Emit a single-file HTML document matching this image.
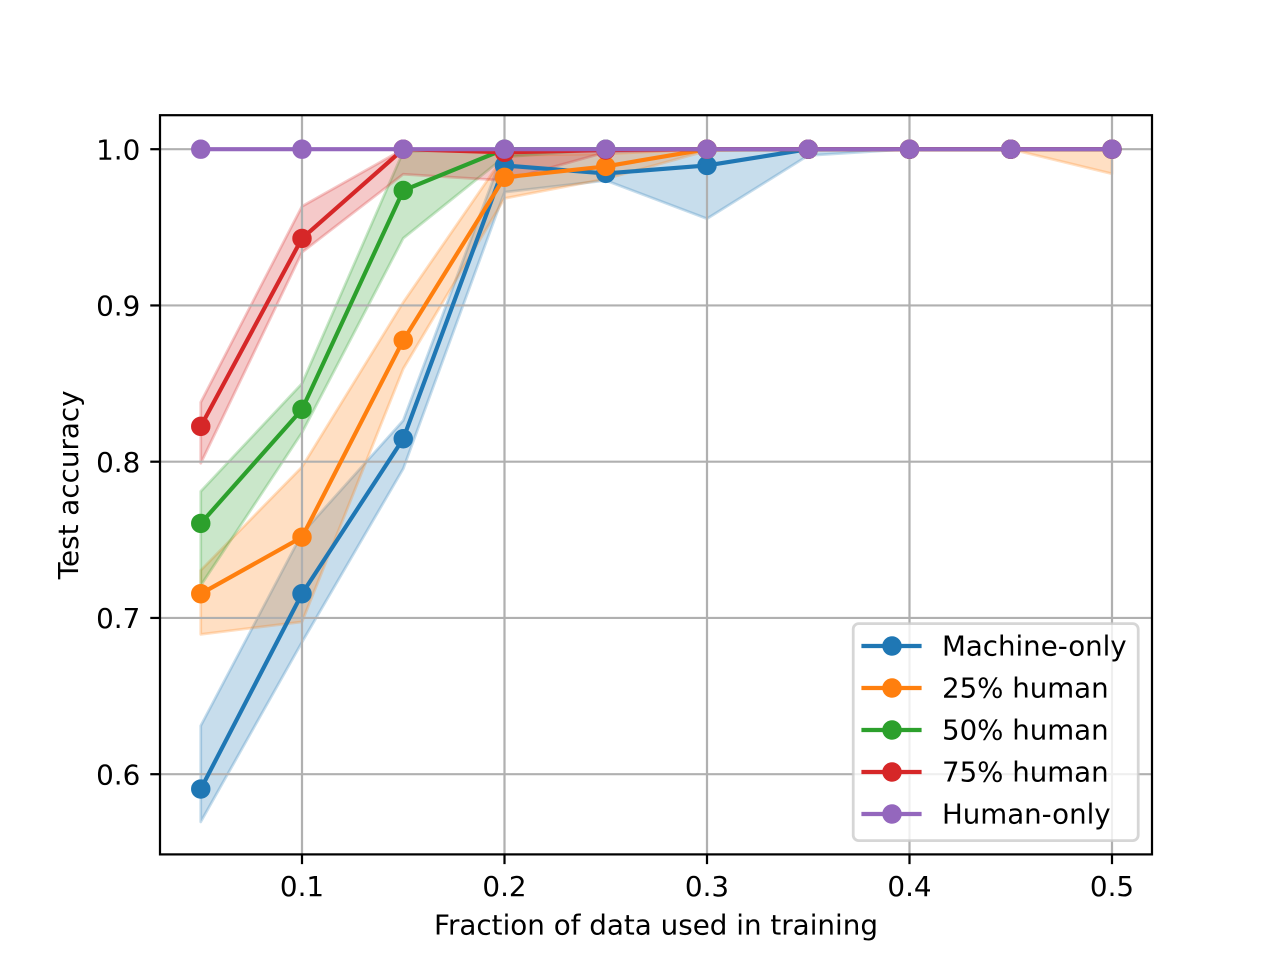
<!DOCTYPE html>
<html lang="en">
<head>
<meta charset="utf-8">
<title>Test accuracy vs fraction of data used in training</title>
<style>
  html, body { margin: 0; padding: 0; background: #ffffff; }
  svg { display: block; }
  text { font-family: "DejaVu Sans", "Liberation Sans", sans-serif; font-size: 27.78px; fill: #000000; }
</style>
</head>
<body>
<svg id="chart" xmlns="http://www.w3.org/2000/svg" width="1280" height="960" viewBox="0 0 1280 960">
  <rect x="0" y="0" width="1280" height="960" fill="#ffffff"/>
  <rect x="160" y="115.2" width="992" height="739.2" fill="#ffffff"/>
  <g id="bands"></g>
  <g id="grid"></g>
  <g id="series"></g>
  <g id="frame"></g>
  <g id="legend"></g>
  <text x="656" y="934.5" text-anchor="middle">Fraction of data used in training</text>
  <text x="78" y="484.8" text-anchor="middle" transform="rotate(-90 78 484.8)">Test accuracy</text>
</svg>
<script>
const fractions = [0.05, 0.10, 0.15, 0.20, 0.25, 0.30, 0.35, 0.40, 0.45, 0.50];
const xTicks = [0.1, 0.2, 0.3, 0.4, 0.5];
const xTickLabels = ['0.1', '0.2', '0.3', '0.4', '0.5'];
const yTicks = [0.6, 0.7, 0.8, 0.9, 1.0];
const yTickLabels = ['0.6', '0.7', '0.8', '0.9', '1.0'];

const seriesNames = ['Machine-only', '25% human', '50% human', '75% human', 'Human-only'];
const seriesColors = ['#1f77b4', '#ff7f0e', '#2ca02c', '#d62728', '#9467bd'];

const machineMean = [0.5905, 0.7155, 0.8147, 0.9896, 0.9845, 0.9896, 1, 1, 1, 1];
const machineLower = [0.5695, 0.6845, 0.7955, 0.9725, 0.9800, 0.9555, 0.9960, 1, 1, 1];
const machineUpper = [0.6310, 0.7540, 0.8264, 1, 0.9985, 1, 1, 1, 1, 1];

const quarterMean = [0.7155, 0.7517, 0.8777, 0.9820, 0.9890, 1, 1, 1, 1, 1];
const quarterLower = [0.6895, 0.6975, 0.8595, 0.9685, 0.9810, 0.9990, 1, 1, 1, 0.9843];
const quarterUpper = [0.7305, 0.7966, 0.9020, 0.9960, 0.9970, 1, 1, 1, 1, 1];

const halfMean = [0.7605, 0.8335, 0.9736, 1, 1, 1, 1, 1, 1, 1];
const halfLower = [0.7208, 0.8186, 0.9430, 0.9950, 1, 1, 1, 1, 1, 1];
const halfUpper = [0.7810, 0.8500, 0.9985, 1, 1, 1, 1, 1, 1, 1];

const threeQuarterMean = [0.8226, 0.9429, 1, 0.9980, 0.9995, 1, 1, 1, 1, 1];
const threeQuarterLower = [0.7990, 0.9340, 0.9840, 0.9800, 0.9980, 1, 1, 1, 1, 1];
const threeQuarterUpper = [0.8380, 0.9634, 1, 1, 1, 1, 1, 1, 1, 1];

const humanMean = [1, 1, 1, 1, 1, 1, 1, 1, 1, 1];
const humanLower = [1, 1, 1, 1, 1, 1, 1, 1, 1, 1];
const humanUpper = [1, 1, 1, 1, 1, 1, 1, 1, 1, 1];

const seriesMeans = [machineMean, quarterMean, halfMean, threeQuarterMean, humanMean];
const seriesLowers = [machineLower, quarterLower, halfLower, threeQuarterLower, humanLower];
const seriesUppers = [machineUpper, quarterUpper, halfUpper, threeQuarterUpper, humanUpper];

const NS = 'http://www.w3.org/2000/svg';
const AX_LEFT = 160, AX_RIGHT = 1152, AX_TOP = 115.2, AX_BOTTOM = 854.4;

function xScale(v) { return 302 + (v - 0.1) * 2025; }
function yScale(v) { return 149.2 + (1 - v) * 1562.5; }

function make(tag, attrs, parent) {
  const el = document.createElementNS(NS, tag);
  for (const k in attrs) el.setAttribute(k, attrs[k]);
  parent.appendChild(el);
  return el;
}
function slug(name) { return name.toLowerCase().replace(/%/g, '').replace(/\s+/g, '-'); }

const bandsG = document.getElementById('bands');
const gridG = document.getElementById('grid');
const seriesG = document.getElementById('series');
const frameG = document.getElementById('frame');
const legendG = document.getElementById('legend');

seriesNames.forEach(function (name, s) {
  const upper = fractions.map(function (f, i) { return xScale(f) + ',' + yScale(seriesUppers[s][i]); });
  const lower = fractions.map(function (f, i) { return xScale(f) + ',' + yScale(seriesLowers[s][i]); }).reverse();
  const band = make('polygon', {
    points: upper.concat(lower).join(' '),
    fill: seriesColors[s], 'fill-opacity': 0.25,
    stroke: seriesColors[s], 'stroke-opacity': 0.25, 'stroke-width': 2.78,
    'stroke-linejoin': 'round'
  }, bandsG);
  
  
});

xTicks.forEach(function (t) {
  const line = make('line', { x1: xScale(t), x2: xScale(t), y1: AX_TOP, y2: AX_BOTTOM, stroke: '#b0b0b0', 'stroke-width': 2.22 }, gridG);
  
  
});
yTicks.forEach(function (t) {
  const line = make('line', { x1: AX_LEFT, x2: AX_RIGHT, y1: yScale(t), y2: yScale(t), stroke: '#b0b0b0', 'stroke-width': 2.22 }, gridG);
  
  
});

seriesNames.forEach(function (name, s) {
  const group = make('g', {}, seriesG);
  
  
  const pts = fractions.map(function (f, i) { return xScale(f) + ',' + yScale(seriesMeans[s][i]); }).join(' ');
  const line = make('polyline', {
    points: pts, fill: 'none', stroke: seriesColors[s], 'stroke-width': 4.17,
    'stroke-linejoin': 'round', 'stroke-linecap': 'square'
  }, group);
  
  
  fractions.forEach(function (f, i) {
    const dot = make('circle', {
      cx: xScale(f), cy: yScale(seriesMeans[s][i]), r: 8.33,
      fill: seriesColors[s], stroke: seriesColors[s], 'stroke-width': 2.78
    }, group);
    
    
  });
});

const spine = make('rect', { x: AX_LEFT, y: AX_TOP, width: AX_RIGHT - AX_LEFT, height: AX_BOTTOM - AX_TOP, fill: 'none', stroke: '#000000', 'stroke-width': 2.22 }, frameG);



xTicks.forEach(function (t, i) {
  const tick = make('line', { x1: xScale(t), x2: xScale(t), y1: AX_BOTTOM, y2: AX_BOTTOM + 9.72, stroke: '#000000', 'stroke-width': 2.22 }, frameG);
  
  
  const label = make('text', { x: xScale(t), y: 895.8, 'text-anchor': 'middle' }, frameG);
  label.textContent = xTickLabels[i];
  
  
});
yTicks.forEach(function (t, i) {
  const tick = make('line', { x1: AX_LEFT - 9.72, x2: AX_LEFT, y1: yScale(t), y2: yScale(t), stroke: '#000000', 'stroke-width': 2.22 }, frameG);
  
  
  const label = make('text', { x: 140.3, y: yScale(t) + 10.2, 'text-anchor': 'end' }, frameG);
  label.textContent = yTickLabels[i];
  
  
});

const legendBox = make('rect', {
  x: 853.2, y: 623.6, width: 285, height: 217, rx: 5.5, ry: 5.5,
  fill: '#ffffff', 'fill-opacity': 0.8, stroke: '#cccccc', 'stroke-opacity': 0.8, 'stroke-width': 2.78
}, legendG);



seriesNames.forEach(function (name, s) {
  const rowY = 646 + s * 42;
  const entry = make('g', {}, legendG);
  
  
  const swatch = make('line', { x1: 863.5, x2: 919.5, y1: rowY, y2: rowY, stroke: seriesColors[s], 'stroke-width': 4.17, 'stroke-linecap': 'square' }, entry);
  
  
  const marker = make('circle', { cx: 892, cy: rowY, r: 8.33, fill: seriesColors[s], stroke: seriesColors[s], 'stroke-width': 2.78 }, entry);
  
  
  const label = make('text', { x: 942, y: rowY + 9.7, style: 'font-size:27.65px' }, entry);
  label.textContent = name;
  
  
});
</script>
</body>
</html>
